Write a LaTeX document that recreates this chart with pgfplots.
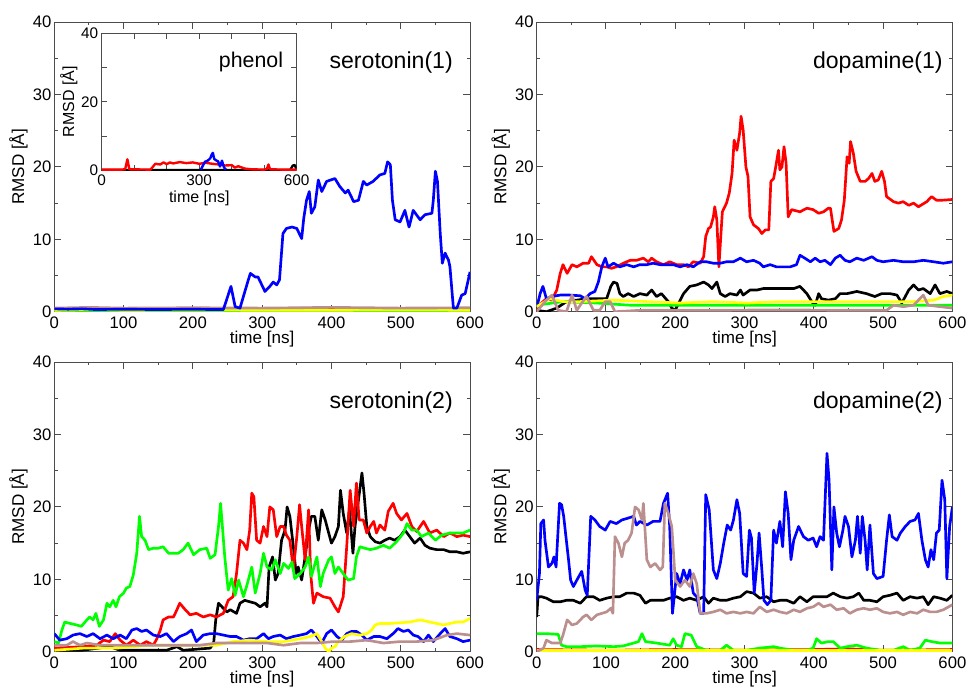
\documentclass[border=0pt]{standalone}
\usepackage{fontspec}
\setmainfont{Liberation Sans}
\usepackage{pgfplots}
\pgfplotsset{compat=1.18}
\definecolor{cred}{RGB}{255,0,0}
\definecolor{cblue}{RGB}{0,0,255}
\definecolor{cgreen}{RGB}{0,255,0}
\definecolor{cyellow}{RGB}{255,255,0}
\definecolor{cbrown}{RGB}{188,143,143}
\pgfplotsset{
  panel/.style={
    scale only axis, width=311.8pt, height=217.2pt,
    xmin=0, xmax=600, ymin=0, ymax=40,
    xtick={0,100,...,600}, ytick={0,10,...,40},
    minor x tick num=1, minor y tick num=1,
    major tick length=5pt, minor tick length=2.5pt,
    tick style={black!70, line width=0.8pt},
    axis line style={black!70, line width=0.8pt},
    tick label style={font=\fontsize{12.5}{14}\selectfont},
    label style={font=\fontsize{12.8}{15}\selectfont},
    xticklabel style={inner sep=3.3pt},
    yticklabel style={inner sep=2pt},
    xlabel={time [ns]}, ylabel={RMSD [Å]},
    xlabel style={inner sep=0pt, yshift=1.6pt},
    ylabel style={inner sep=1.7pt},
    /pgf/number format/assume math mode=true,
    every axis plot/.append style={line width=2pt, line join=round},
  },
}
\tikzset{ttl/.style={anchor=east, inner sep=0pt, font=\fontsize{17.3}{20}\selectfont}}
\begin{document}
\begin{tikzpicture}
\useasboundingbox (0,0) rectangle (725.25pt,516pt);
% ---------------- top left: serotonin(1)
\begin{axis}[panel, at={(40.73pt,282.2pt)}, anchor=south west]
\addplot[black] coordinates {(0,0.15) (100,0.2) (200,0.25) (300,0.2) (400,0.2) (500,0.25) (560,0.4) (600,0.3)};
\addplot[cred] coordinates {(0,0.3) (50,0.45) (60,0.3) (120,0.35) (200,0.3) (300,0.4) (380,0.5) (400,0.3) (500,0.4) (600,0.3)};
\addplot[cgreen] coordinates {(0,0.1) (100,0.1) (200,0.15) (300,0.1) (400,0.12) (500,0.1) (600,0.12)};
\addplot[cyellow] coordinates {(0,0.2) (60,0.3) (100,0.2) (200,0.25) (300,0.2) (400,0.2) (500,0.25) (600,0.2)};
\addplot[cbrown] coordinates {(0,0.5) (50,0.6) (100,0.5) (200,0.55) (300,0.5) (400,0.6) (500,0.5) (600,0.55)};
\addplot[cblue] coordinates {(0,0.4) (20,0.35) (40,0.4) (60,0.3) (100,0.35) (150,0.3) (200,0.35) (230,0.3) (244,0.3) (255,3.5) (261,0.7) (268,0.5) (280,4.4) (283,5.3) (290,4.8) (294,4.8) (304,2.8) (311,3.5) (316,4.1) (321,3.7) (325,4.4) (330,10.8) (335,11.5) (343,11.7) (350,11.5) (357,10.1) (360,12.9) (364,15.4) (368,16.6) (371,13.6) (376,14.5) (381,18.2) (386,16.6) (393,18) (405,18.4) (412,17.3) (420,16.4) (424,16.8) (432,15.2) (439,15.4) (446,18) (451,17.5) (460,18) (470,18.9) (477,19.1) (481,20.7) (485,20.3) (488,15.4) (492,12.7) (499,12.4) (506,14) (512,11.7) (518,14) (528,12.7) (535,13.4) (545,13.6) (547,15.4) (550,19.4) (553,18) (557,10.8) (560,6.7) (564,8.1) (569,7.1) (571,6.2) (576,0.5) (581,0.5) (588,2.3) (593,2.5) (600,5.5)};
\node[ttl] at (rel axis cs:0.959,0.859) {serotonin(1)};
\end{axis}
% ---------------- inset: phenol
\begin{axis}[scale only axis, width=146.25pt, height=103.05pt,
  at={(76.3pt,388pt)}, anchor=south west,
  axis background/.style={fill=white},
  xmin=0, xmax=600, ymin=0, ymax=40,
  xtick={0,100,...,600}, xticklabels={0,,,300,,,600},
  ytick={0,10,...,40}, yticklabels={0,,20,,40},
  major tick length=4pt,
  tick style={black!70, line width=0.8pt},
  axis line style={black!70, line width=0.8pt},
  tick label style={font=\fontsize{11.5}{13}\selectfont},
  label style={font=\fontsize{12}{14}\selectfont},
  xticklabel style={inner sep=3.2pt},
  yticklabel style={inner sep=2.5pt},
  xlabel={time [ns]}, ylabel={RMSD [Å]},
  xlabel style={inner sep=0pt},
  ylabel style={inner sep=0pt},
  every axis plot/.append style={line width=1.8pt, line join=round}]
\addplot[cyellow] coordinates {(0,0.15) (600,0.15)};
\addplot[black] coordinates {(0,0.2) (300,0.2) (580,0.2) (588,1.5) (594,1.6) (600,0.3)};
\addplot[cred] coordinates {(0,0.3) (60,0.3) (72,0.4) (79,3.3) (85,0.4) (150,0.3) (158,1.2) (165,2.0) (180,1.8) (190,2.4) (200,1.9) (210,2.4) (220,2.1) (240,2.5) (260,2.2) (280,2.4) (300,2.0) (320,2.3) (340,2.0) (360,1.8) (380,1.5) (400,1.6) (410,0.9) (420,1.3) (440,0.6) (460,0.4) (500,0.3) (508,0.5) (513,1.8) (518,0.4) (560,0.3) (600,0.3)};
\addplot[cblue] coordinates {(305,0.3) (312,1.6) (318,2.6) (326,2.9) (334,3.6) (338,4.6) (342,5.2) (346,3.4) (352,3.0) (358,2.7) (364,1.2) (370,2.9) (376,1.0) (382,0.3)};
\node[anchor=east, inner sep=0pt, font=\fontsize{16}{19}\selectfont] at (rel axis cs:0.931,0.793) {phenol};
\end{axis}
% ---------------- top right: dopamine(1)
\begin{axis}[panel, at={(402.5pt,282.2pt)}, anchor=south west]
\addplot[black] coordinates {(0,0.2) (14,0) (29,0.5) (43,1.4) (58,1.6) (72,1.8) (84,1.8) (101,1.8) (107,3.5) (111,4.1) (116,3.9) (120,2.5) (125,2.1) (132,2.5) (140,2.1) (149,2.5) (159,2.3) (166,3.0) (173,2.1) (180,2.5) (190,1.4) (195,0.5) (200,0.2) (205,1.2) (212,2.5) (221,3.5) (231,3.7) (241,4.1) (248,3.7) (253,3.2) (260,4.1) (265,2.5) (272,2.1) (279,2.5) (289,2.3) (294,3.0) (298,2.3) (308,3.0) (318,3.0) (327,3.2) (342,3.2) (356,3.2) (371,3.2) (380,3.5) (390,2.5) (397,1.4) (402,0.9) (407,2.5) (411,1.8) (421,1.6) (431,1.8) (438,2.5) (448,2.5) (462,2.8) (476,2.5) (488,2.1) (498,2.5) (510,2.5) (520,2.3) (527,1.2) (537,3.0) (544,3.7) (551,3.0) (558,3.2) (568,2.5) (575,3.7) (582,2.5) (592,2.8) (600,2.5)};
\addplot[cred] coordinates {(0,0.2) (7,1.2) (14,1.8) (22,1.6) (29,3.0) (34,5.3) (38,6.5) (44,5.3) (51,6.5) (58,6.2) (67,6.7) (75,6.7) (79,7.6) (87,6.5) (94,6.2) (101,6.2) (108,6.0) (115,6.2) (125,6.7) (135,7.1) (144,7.1) (154,7.4) (161,6.9) (166,7.4) (173,6.9) (183,6.5) (192,6.9) (202,6.5) (212,6.5) (219,6.2) (226,6.9) (236,6.7) (241,7.6) (244,10.4) (248,11.5) (251,11.7) (255,13.1) (257,14.5) (260,12.7) (263,6.2) (266,10.8) (268,13.8) (274,15) (278,16.4) (282,19.1) (285,23.7) (289,22.3) (293,24.7) (295,27.0) (298,25.1) (302,20.0) (305,18.7) (308,13.1) (313,12.0) (320,11.5) (325,10.8) (330,11.3) (335,11.3) (338,18.0) (342,18.4) (345,20.0) (349,22.3) (351,19.6) (354,20.0) (357,22.8) (360,20.5) (363,13.1) (368,14.1) (380,13.8) (390,14.3) (399,14.1) (407,13.6) (414,13.8) (421,14.3) (424,14.3) (429,11.1) (436,11.5) (440,12.7) (444,15.4) (448,21.4) (451,20.5) (453,23.5) (457,21.9) (461,19.4) (467,18.0) (474,18.0) (479,18.4) (484,19.1) (488,18.0) (493,18.2) (498,19.4) (502,18.0) (505,15.9) (515,15.2) (522,15.0) (529,15.2) (537,14.7) (544,15.0) (551,14.5) (563,15.2) (570,15.9) (577,15.4) (585,15.4) (600,15.5)};
\addplot[cgreen] coordinates {(0,0.9) (38,1.4) (87,1.2) (135,0.9) (183,0.9) (231,0.9) (279,0.9) (327,0.9) (375,0.9) (424,0.9) (472,0.9) (520,0.9) (568,0.9) (600,0.9)};
\addplot[cblue] coordinates {(0,0.5) (5,2.5) (9,3.5) (12,2.5) (14,1.8) (22,2.1) (34,2.3) (48,2.3) (63,2.2) (70,1.8) (77,2.5) (84,2.8) (89,4.1) (94,6.2) (99,7.4) (103,6.2) (111,6.7) (120,6.2) (130,6.5) (140,6.2) (149,6.5) (159,6.5) (168,6.7) (178,6.5) (188,6.5) (197,6.5) (207,6.2) (217,6.5) (226,6.2) (236,6.9) (245,6.9) (255,6.7) (265,6.7) (274,6.9) (284,6.9) (294,7.4) (303,6.9) (313,7.1) (322,6.7) (327,6.2) (337,6.5) (346,6.2) (356,6.2) (366,6.2) (375,6.5) (380,7.8) (387,7.4) (395,6.9) (402,7.4) (409,6.9) (416,7.1) (424,6.5) (431,7.4) (438,7.8) (445,7.1) (452,6.9) (462,7.4) (472,7.1) (484,7.6) (491,7.1) (500,6.9) (515,7.1) (529,6.9) (544,6.9) (558,7.1) (573,6.9) (587,6.7) (600,6.9)};
\addplot[cyellow] coordinates {(0,0.7) (19,1.8) (38,1.4) (63,1.4) (111,1.6) (159,1.4) (207,1.2) (255,1.4) (303,1.2) (351,1.4) (399,1.4) (448,1.4) (496,1.4) (544,1.4) (573,1.6) (587,2.1) (600,2.3)};
\addplot[cbrown] coordinates {(0,0) (14,1.6) (22,2.3) (31,0.2) (43,0) (51,2.3) (58,0.2) (65,1.2) (72,2.1) (82,0.2) (91,0.2) (99,1.4) (106,1.4) (113,0) (150,0.2) (250,0.2) (350,0.25) (450,0.2) (505,0.2) (515,0.9) (529,0.7) (544,0.9) (558,2.3) (565,0.9) (582,0.7) (600,0.5)};
\node[ttl] at (rel axis cs:0.977,0.859) {dopamine(1)};
\end{axis}
% ---------------- bottom left: serotonin(2)
\begin{axis}[panel, at={(40.73pt,27.2pt)}, anchor=south west]
\addplot[black] coordinates {(0,0.2) (40,0.2) (80,0.7) (95,0.2) (114,0.2) (162,0.2) (177,0.7) (186,0.2) (225,0.5) (230,1.2) (233,4.4) (237,6.7) (242,6.2) (249,5.5) (254,5.8) (263,5.3) (268,6.7) (275,7.1) (282,6.9) (290,6.7) (297,6.2) (304,6.7) (307,6.2) (310,11.7) (315,13.1) (319,9.9) (323,10.8) (328,15.4) (333,16.8) (336,20.0) (340,18.7) (345,14.5) (349,10.8) (352,11.7) (357,9.9) (362,13.1) (367,16.8) (371,18.7) (376,18.7) (381,15.4) (386,19.6) (391,18.2) (396,16.4) (400,15.0) (405,15.9) (410,17.3) (413,22.3) (417,19.1) (422,16.4) (426,19.6) (431,13.6) (434,17.3) (439,21.0) (444,24.7) (447,21.9) (451,17.3) (456,15.9) (463,15.2) (470,15.0) (477,15.4) (484,15.7) (491,15.4) (499,15.9) (506,16.8) (513,15.9) (520,15.0) (528,15.7) (535,14.7) (542,14.3) (552,14.1) (562,14.1) (571,13.8) (581,13.8) (590,13.6) (600,13.8)};
\addplot[cred] coordinates {(0,0.5) (42,0.7) (61,0.9) (71,1.6) (80,1.4) (88,2.5) (95,1.6) (104,0.9) (114,1.6) (124,0.9) (133,1.4) (143,0.9) (148,1.8) (153,3.0) (157,4.4) (165,4.8) (172,4.8) (177,5.8) (181,6.7) (189,5.8) (196,5.1) (205,5.3) (215,4.8) (225,5.1) (234,4.8) (244,5.3) (251,7.1) (258,7.6) (263,10.8) (268,15.4) (273,15.0) (278,14.1) (282,16.8) (285,21.9) (288,21.4) (292,15.4) (297,15.0) (302,17.3) (307,15.9) (311,20.0) (316,19.6) (321,15.9) (326,17.3) (331,17.3) (335,16.1) (340,15.4) (345,11.3) (350,15.9) (354,20.3) (357,17.3) (362,12.7) (367,19.6) (370,10.8) (374,6.7) (379,8.1) (388,7.6) (398,7.4) (405,6.2) (410,5.5) (417,7.6) (422,14.5) (427,22.3) (432,17.3) (436,23.3) (440,18.2) (446,18.2) (451,16.4) (456,17.3) (461,18.0) (465,16.4) (470,17.5) (477,16.8) (482,19.4) (489,20.5) (494,19.1) (501,18.2) (509,19.1) (516,17.3) (523,16.6) (533,18.0) (542,16.4) (552,16.8) (562,15.9) (571,16.4) (581,15.9) (590,16.1) (600,15.9)};
\addplot[cgreen] coordinates {(0,1.4) (6,1.2) (11,3.0) (15,4.1) (23,3.9) (32,3.7) (39,3.5) (47,4.4) (51,4.8) (56,4.4) (60,5.3) (65,3.5) (71,4.4) (76,6.7) (80,6.2) (85,7.1) (89,6.2) (94,7.6) (100,8.1) (104,8.8) (109,9.0) (114,10.6) (119,13.6) (123,18.7) (126,15.9) (131,15.4) (136,14.1) (143,14.3) (150,14.3) (157,14.5) (165,13.6) (172,13.6) (179,13.6) (186,14.1) (193,15.0) (201,13.4) (210,14.1) (220,14.3) (225,12.9) (232,13.4) (237,17.3) (240,20.5) (243,16.8) (246,13.1) (251,8.5) (256,10.1) (261,7.8) (266,9.9) (273,7.6) (278,9.2) (285,11.7) (290,8.1) (297,10.8) (302,13.6) (307,11.7) (314,11.3) (319,12.7) (326,10.8) (331,12.2) (338,11.5) (343,12.4) (347,10.1) (355,10.8) (362,11.7) (367,13.1) (371,10.4) (379,13.1) (384,9.0) (388,10.8) (396,12.7) (400,13.1) (405,10.8) (410,11.7) (417,10.8) (424,9.9) (432,10.1) (436,13.1) (441,14.5) (448,14.3) (456,14.1) (465,14.3) (475,14.7) (484,14.3) (494,15.2) (504,16.4) (509,17.7) (516,16.8) (523,16.8) (530,15.9) (540,16.4) (550,15.4) (559,16.1) (571,16.4) (581,16.4) (590,16.4) (600,16.8)};
\addplot[cblue] coordinates {(0,2.5) (8,1.6) (18,1.8) (27,2.3) (37,2.5) (47,2.1) (56,2.5) (66,1.8) (76,2.3) (85,1.8) (95,2.3) (104,1.8) (112,3.0) (119,3.2) (126,2.8) (133,3.0) (143,2.3) (153,2.1) (162,2.5) (172,1.4) (181,2.1) (191,2.5) (198,3.0) (205,1.4) (215,2.3) (225,2.5) (234,2.5) (244,2.3) (254,2.1) (263,2.1) (273,1.6) (282,1.8) (292,1.8) (302,2.5) (309,1.8) (316,2.1) (326,2.3) (335,1.8) (345,2.1) (355,2.3) (364,2.5) (371,3.0) (379,2.1) (386,1.2) (393,2.5) (400,3.0) (408,2.1) (415,1.6) (422,2.5) (429,2.8) (436,2.8) (444,2.3) (451,1.6) (461,2.1) (470,2.1) (480,1.8) (489,2.5) (496,3.2) (504,2.8) (511,3.0) (518,2.3) (525,2.1) (533,1.4) (540,2.3) (547,1.4) (557,2.5) (564,3.2) (571,2.1) (581,1.8) (590,1.4) (600,1.6)};
\addplot[cyellow] coordinates {(0,0.2) (42,0.5) (90,0.5) (114,0.7) (138,0.9) (162,0.9) (210,0.9) (234,0.9) (258,1.4) (282,1.6) (307,1.4) (331,1.4) (355,1.8) (369,2.1) (379,2.5) (386,1.4) (391,0.5) (396,0) (400,0.5) (405,0.7) (410,1.4) (419,2.1) (429,2.5) (441,2.3) (451,2.5) (458,3.0) (463,3.7) (470,3.9) (484,3.9) (499,4.0) (513,4.1) (528,4.4) (542,4.1) (552,3.9) (562,3.7) (571,3.9) (581,4.1) (590,4.1) (600,4.6)};
\addplot[cbrown] coordinates {(0,0.9) (18,0.9) (27,1.4) (37,0.9) (47,1.2) (66,0.9) (90,0.9) (114,0.9) (138,0.9) (162,0.9) (186,0.9) (210,0.9) (234,1.2) (258,1.2) (282,1.2) (307,1.2) (331,0.9) (355,1.2) (379,1.2) (403,1.4) (427,1.4) (451,1.6) (475,1.2) (499,1.4) (523,1.4) (547,1.6) (567,2.3) (581,2.5) (600,2.3)};
\node[ttl] at (rel axis cs:0.959,0.859) {serotonin(2)};
\end{axis}
% ---------------- bottom right: dopamine(2)
\begin{axis}[panel, at={(402.5pt,27.2pt)}, anchor=south west]
\addplot[black] coordinates {(0,4.8) (2,7.6) (7,7.6) (14,7.4) (24,6.9) (34,6.9) (43,7.1) (53,7.1) (63,6.7) (72,7.6) (82,7.6) (91,7.1) (101,7.4) (111,7.6) (120,7.6) (130,8.1) (140,8.1) (149,7.8) (157,6.7) (164,7.1) (173,7.1) (183,7.1) (192,7.4) (202,7.6) (212,7.1) (221,7.4) (231,7.1) (241,7.6) (248,6.7) (255,7.4) (265,7.1) (274,7.1) (284,7.4) (294,7.6) (303,8.3) (313,8.1) (322,7.4) (332,7.6) (342,6.9) (351,7.1) (361,7.1) (371,6.7) (380,7.6) (390,6.9) (399,7.6) (409,7.6) (419,7.6) (428,8.1) (438,7.6) (448,7.4) (457,7.6) (465,8.1) (472,7.1) (481,7.1) (491,6.9) (500,7.6) (510,7.8) (520,8.1) (529,7.1) (539,7.6) (549,7.4) (558,7.6) (565,6.5) (573,7.6) (582,7.4) (592,7.1) (600,7.8)};
\addplot[cred] coordinates {(0,0.3) (100,0.2) (200,0.3) (300,0.2) (400,0.3) (450,0.4) (500,0.2) (600,0.3)};
\addplot[cgreen] coordinates {(0,2.5) (14,2.5) (31,2.4) (36,0.9) (43,0.7) (63,0.7) (87,0.8) (111,0.7) (125,0.8) (140,1.2) (147,1.4) (152,2.5) (157,1.4) (173,1.2) (192,0.9) (197,1.8) (202,0.9) (209,0.7) (214,2.5) (223,2.3) (231,0.7) (245,0.2) (265,0.2) (274,0.9) (284,0.2) (303,0.2) (322,0.5) (342,0.7) (351,0.5) (371,0.2) (390,0.2) (399,0.5) (404,1.8) (411,1.2) (421,1.4) (428,1.4) (438,0.5) (448,0.7) (462,0.9) (476,0.5) (496,0.2) (515,0.2) (529,0.7) (539,0.2) (553,0.5) (561,1.6) (570,1.4) (582,1.2) (600,1.2)};
\addplot[cblue] coordinates {(0,7.1) (4,10.8) (6,17.7) (10,18.2) (12,15.4) (17,11.7) (22,12.2) (25,13.1) (28,11.7) (33,20.5) (36,20.3) (39,18.7) (42,16.1) (46,12.7) (49,9.9) (53,9.0) (58,9.9) (65,11.1) (70,8.5) (73,7.8) (78,18.7) (84,18.2) (91,17.3) (99,16.8) (106,18.0) (115,17.7) (123,18.2) (130,18.4) (140,18.7) (144,17.5) (149,18.0) (159,17.5) (168,18.0) (178,18.0) (183,20.5) (189,21.9) (192,17.3) (196,5.3) (202,10.8) (207,9.4) (212,11.3) (217,9.9) (221,11.3) (226,8.1) (231,7.6) (236,5.3) (241,5.3) (244,21.7) (249,19.6) (255,11.3) (260,10.1) (265,12.2) (270,15.0) (275,17.5) (280,16.8) (284,18.2) (289,21.0) (293,19.1) (298,10.8) (303,10.4) (307,16.8) (310,15.7) (314,8.1) (318,12.2) (321,16.4) (325,11.3) (328,7.1) (333,6.5) (338,7.1) (342,16.8) (346,15.0) (351,18.0) (355,14.5) (359,22.1) (363,19.1) (367,12.7) (371,15.4) (378,17.3) (385,15.9) (392,15.4) (399,15.7) (404,14.5) (409,15.9) (414,15.4) (419,27.4) (422,23.7) (426,11.3) (429,20.0) (433,16.4) (437,14.5) (442,16.8) (445,18.7) (450,17.3) (455,13.1) (460,15.4) (463,18.7) (467,13.6) (470,18.7) (474,15.4) (477,11.3) (481,17.5) (486,10.8) (491,10.1) (500,10.4) (505,15.4) (509,18.9) (513,15.9) (520,15.4) (525,16.4) (532,17.3) (539,18.0) (546,18.2) (551,19.1) (556,15.4) (561,12.7) (565,11.7) (569,14.1) (573,12.7) (577,16.4) (581,16.8) (585,23.7) (589,21.0) (592,10.1) (596,17.3) (600,20.0)};
\addplot[cyellow] coordinates {(0,0.15) (600,0.15)};
\addplot[cbrown] coordinates {(0,0) (10,0.5) (14,1.6) (22,1.2) (34,1.2) (38,2.3) (44,4.4) (51,3.7) (58,3.9) (67,4.8) (72,5.1) (79,4.4) (87,5.1) (94,5.3) (101,5.5) (107,6.0) (110,5.3) (113,15.9) (118,15.0) (123,13.1) (127,15.0) (132,15.4) (137,16.4) (142,20.0) (147,19.6) (152,18.2) (154,20.5) (159,12.7) (164,11.7) (171,12.2) (178,11.3) (182,11.7) (185,20.5) (190,19.1) (195,17.3) (200,9.9) (207,9.0) (214,9.9) (221,9.0) (226,10.8) (231,9.4) (236,5.3) (245,5.3) (255,5.5) (265,5.8) (274,5.3) (284,5.5) (294,5.3) (303,5.5) (313,5.3) (322,6.2) (332,5.5) (342,5.8) (351,5.5) (361,5.3) (371,5.8) (380,5.5) (390,6.0) (399,6.2) (407,6.7) (414,6.2) (424,6.5) (433,5.8) (443,6.0) (452,5.3) (462,5.8) (472,6.0) (481,5.8) (491,6.0) (500,5.5) (510,5.3) (520,5.5) (529,5.1) (539,5.5) (549,5.3) (558,5.8) (568,5.5) (577,5.5) (587,5.8) (600,6.5)};
\node[ttl] at (rel axis cs:0.977,0.859) {dopamine(2)};
\end{axis}
\end{tikzpicture}
\end{document}
